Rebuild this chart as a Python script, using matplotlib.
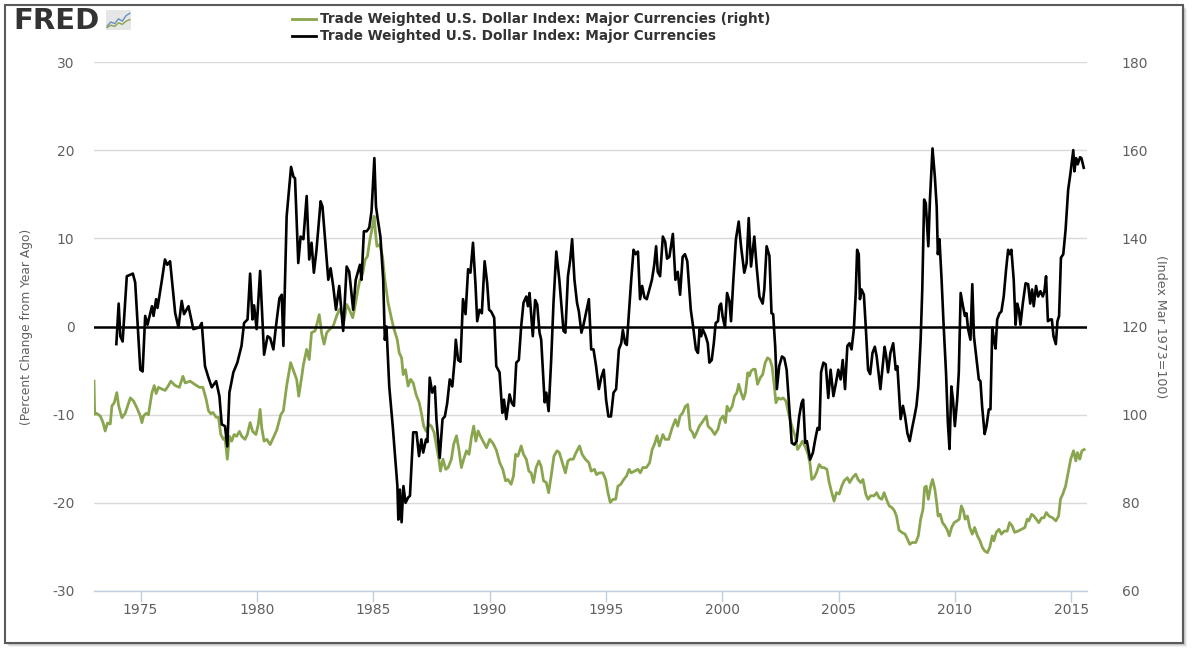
import matplotlib
matplotlib.use("Agg")
import matplotlib.pyplot as plt
from matplotlib.patches import Rectangle
from matplotlib.lines import Line2D

plt.rcParams["axes.unicode_minus"] = False

# Percent change from year ago (left axis)
pct_years = [
    1973.96, 1974.06, 1974.13, 1974.23, 1974.41, 1974.67, 1974.77, 1974.99, 1975.09, 1975.2,
    1975.3, 1975.49, 1975.56, 1975.67, 1975.73, 1975.92, 1976.05, 1976.15, 1976.27, 1976.49,
    1976.63, 1976.77, 1976.87, 1977.06, 1977.27, 1977.53, 1977.63, 1977.77, 1977.92, 1978.06,
    1978.25, 1978.39, 1978.49, 1978.63, 1978.73, 1978.82, 1978.99, 1979.16, 1979.34, 1979.45,
    1979.6, 1979.71, 1979.81, 1979.88, 1979.99, 1980.14, 1980.31, 1980.46, 1980.57, 1980.71,
    1980.82, 1980.97, 1981.07, 1981.14, 1981.28, 1981.47, 1981.57, 1981.64, 1981.78, 1981.88,
    1982.0, 1982.14, 1982.25, 1982.35, 1982.45, 1982.56, 1982.74, 1982.82, 1982.93, 1983.07,
    1983.17, 1983.28, 1983.4, 1983.54, 1983.71, 1983.86, 1983.97, 1984.14, 1984.25, 1984.43,
    1984.5, 1984.6, 1984.72, 1984.83, 1984.93, 1985.05, 1985.12, 1985.2, 1985.31, 1985.43,
    1985.5, 1985.57, 1985.69, 1985.84, 1985.94, 1986.04, 1986.08, 1986.15, 1986.22, 1986.3,
    1986.39, 1986.5, 1986.58, 1986.72, 1986.86, 1986.97, 1987.07, 1987.15, 1987.27, 1987.33,
    1987.43, 1987.54, 1987.65, 1987.72, 1987.86, 1987.98, 1988.08, 1988.18, 1988.29, 1988.4,
    1988.5, 1988.55, 1988.65, 1988.75, 1988.86, 1988.97, 1989.08, 1989.18, 1989.29, 1989.4,
    1989.47, 1989.57, 1989.67, 1989.79, 1989.9, 1989.98, 1990.07, 1990.2, 1990.29, 1990.43,
    1990.55, 1990.62, 1990.72, 1990.86, 1990.96, 1991.05, 1991.15, 1991.26, 1991.36, 1991.46,
    1991.58, 1991.65, 1991.72, 1991.86, 1991.96, 1992.05, 1992.15, 1992.22, 1992.37, 1992.44,
    1992.54, 1992.65, 1992.75, 1992.87, 1993.0, 1993.08, 1993.18, 1993.26, 1993.37, 1993.47,
    1993.55, 1993.65, 1993.76, 1993.84, 1993.95, 1994.04, 1994.16, 1994.27, 1994.37, 1994.47,
    1994.58, 1994.7, 1994.8, 1994.91, 1995.01, 1995.11, 1995.22, 1995.33, 1995.44, 1995.56,
    1995.66, 1995.73, 1995.83, 1995.9, 1995.99, 1996.09, 1996.19, 1996.28, 1996.38, 1996.47,
    1996.56, 1996.66, 1996.76, 1996.86, 1996.98, 1997.08, 1997.16, 1997.23, 1997.33, 1997.45,
    1997.55, 1997.63, 1997.73, 1997.88, 1997.99, 1998.09, 1998.19, 1998.3, 1998.4, 1998.5,
    1998.65, 1998.75, 1998.87, 1998.96, 1999.03, 1999.1, 1999.16, 1999.28, 1999.38, 1999.45,
    1999.55, 1999.64, 1999.72, 1999.82, 1999.88, 1999.95, 2000.02, 2000.12, 2000.21, 2000.31,
    2000.38, 2000.48, 2000.59, 2000.71, 2000.81, 2000.95, 2001.05, 2001.14, 2001.24, 2001.38,
    2001.48, 2001.6, 2001.74, 2001.81, 2001.91, 2002.03, 2002.12, 2002.19, 2002.28, 2002.35,
    2002.45, 2002.57, 2002.67, 2002.77, 2002.88, 2002.99, 2003.1, 2003.2, 2003.31, 2003.41,
    2003.48, 2003.57, 2003.64, 2003.78, 2003.9, 2004.0, 2004.1, 2004.18, 2004.25, 2004.35,
    2004.45, 2004.56, 2004.66, 2004.78, 2004.89, 2004.99, 2005.09, 2005.18, 2005.28, 2005.38,
    2005.47, 2005.56, 2005.66, 2005.74, 2005.8, 2005.87, 2005.92, 2005.99, 2006.09, 2006.17,
    2006.27, 2006.36, 2006.46, 2006.56, 2006.64, 2006.8, 2006.9, 2006.98, 2007.05, 2007.13,
    2007.23, 2007.35, 2007.46, 2007.53, 2007.67, 2007.77, 2007.86, 2007.96, 2008.06, 2008.15,
    2008.25, 2008.35, 2008.43, 2008.53, 2008.6, 2008.68, 2008.75, 2008.86, 2008.93, 2009.04,
    2009.14, 2009.22, 2009.27, 2009.34, 2009.43, 2009.52, 2009.62, 2009.7, 2009.77, 2009.85,
    2009.92, 2010.0, 2010.1, 2010.17, 2010.25, 2010.35, 2010.43, 2010.5, 2010.57, 2010.67,
    2010.75, 2010.82, 2010.92, 2011.03, 2011.1, 2011.17, 2011.28, 2011.36, 2011.46, 2011.53,
    2011.61, 2011.68, 2011.75, 2011.82, 2011.92, 2012.0, 2012.1, 2012.2, 2012.29, 2012.36,
    2012.43, 2012.53, 2012.61, 2012.68, 2012.75, 2012.82, 2012.92, 2013.04, 2013.15, 2013.24,
    2013.32, 2013.39, 2013.49, 2013.58, 2013.68, 2013.78, 2013.85, 2013.92, 2014.0, 2014.1,
    2014.17, 2014.24, 2014.34, 2014.41, 2014.48, 2014.56, 2014.66, 2014.76, 2014.87, 2014.97,
    2015.09, 2015.14, 2015.21, 2015.28, 2015.38, 2015.44, 2015.54,
]
pct_values = [
    -2.0, 2.6, -1.1, -1.7, 5.7, 6.0, 5.0, -4.9, -5.1, 1.2,
    0.2, 2.3, 1.2, 3.1, 2.1, 5.3, 7.6, 7.0, 7.4, 1.5,
    -0.1, 2.9, 1.4, 2.3, -0.3, -0.1, 0.4, -4.5, -5.8, -6.9,
    -6.2, -7.9, -11.1, -11.3, -13.6, -7.5, -5.2, -4.1, -2.2, 0.4,
    0.8, 6.0, 0.8, 2.4, -0.3, 6.3, -3.2, -1.1, -1.3, -2.6,
    0.0, 3.2, 3.6, -2.2, 12.5, 18.1, 17.0, 16.8, 7.2, 10.2,
    9.9, 14.8, 7.6, 9.5, 6.1, 8.6, 14.2, 13.6, 9.9, 5.3,
    6.6, 4.6, 1.9, 4.6, -0.5, 6.8, 6.2, 1.9, 5.3, 7.0,
    5.3, 10.8, 10.8, 11.2, 13.1, 19.1, 13.6, 12.1, 10.2, 5.3,
    -1.5, 0.0, -6.8, -11.3, -14.7, -18.1, -21.9, -18.5, -22.2, -18.1,
    -20.0, -19.4, -19.2, -12.0, -12.0, -14.7, -12.8, -14.3, -12.8, -13.1,
    -5.8, -7.5, -6.8, -10.6, -14.9, -10.5, -10.2, -8.7, -6.0, -6.8,
    -3.8, -1.5, -3.8, -4.0, 3.1, 1.4, 6.5, 6.1, 9.5, 4.6,
    0.6, 1.9, 1.5, 7.4, 4.9, 1.9, 1.7, 1.0, -4.5, -5.2,
    -9.8, -8.3, -10.5, -7.7, -8.7, -9.0, -4.1, -3.8, 0.0, 2.7,
    3.4, 2.3, 3.8, -1.1, 3.0, 2.5, -0.7, -1.5, -8.6, -7.5,
    -9.6, -3.8, 2.7, 8.5, 5.3, 2.7, -0.5, -0.7, 5.7, 7.6,
    9.9, 5.3, 2.7, 1.7, -0.7, 0.2, 1.7, 3.1, -2.6, -2.6,
    -4.5, -7.1, -5.8, -4.9, -8.3, -10.2, -10.2, -7.5, -7.1, -2.6,
    -1.9, -0.4, -1.9, -2.1, 1.5, 5.3, 8.7, 8.2, 8.5, 3.1,
    4.6, 3.3, 3.1, 4.1, 5.3, 7.0, 9.1, 6.2, 5.7, 10.2,
    9.6, 7.7, 7.9, 10.5, 5.3, 6.2, 3.6, 7.9, 8.2, 7.4,
    1.9, 0.0, -2.6, -3.0, -0.3, -1.1, -0.3, -1.0, -1.9, -4.1,
    -3.8, -1.9, 0.4, 0.6, 2.3, 2.6, 1.1, -0.1, 3.8, 2.9,
    0.6, 5.3, 9.9, 11.9, 9.1, 6.1, 7.2, 12.3, 6.8, 10.2,
    6.8, 3.4, 2.6, 4.2, 9.1, 8.0, 1.5, 1.4, -2.3, -7.1,
    -4.5, -3.4, -3.6, -4.9, -9.0, -13.2, -13.4, -13.0, -10.2, -8.7,
    -8.3, -13.2, -13.0, -15.1, -14.3, -12.8, -11.5, -11.7, -5.2, -4.1,
    -4.3, -8.1, -4.9, -7.9, -6.4, -4.9, -6.0, -3.8, -7.1, -2.2,
    -1.9, -2.6, -0.3, 3.8, 8.7, 8.2, 3.1, 4.2, 3.6, 0.0,
    -4.9, -5.4, -3.0, -2.3, -3.4, -7.1, -4.5, -2.3, -3.4, -5.2,
    -3.0, -1.9, -4.9, -4.5, -10.5, -9.0, -10.2, -12.1, -13.0, -11.7,
    -10.4, -9.0, -6.8, -1.5, 4.2, 14.4, 14.0, 9.1, 14.4, 20.2,
    17.0, 13.6, 8.2, 9.9, 5.3, 0.0, -5.2, -10.9, -13.9, -6.8,
    -8.3, -11.3, -8.3, -5.2, 3.8, 2.3, 1.2, 1.5, -0.3, -1.5,
    4.8, -1.1, -3.4, -6.0, -6.2, -9.0, -12.2, -11.3, -9.4, -9.4,
    -0.1, -1.5, -2.5, 0.8, 1.5, 1.7, 3.4, 6.4, 8.7, 8.2,
    8.7, 5.3, 0.2, 2.6, 1.9, 0.2, 2.6, 4.9, 4.8, 2.6,
    4.2, 2.3, 4.6, 3.4, 4.0, 3.4, 4.0, 5.7, 0.6, 0.8,
    0.8, -1.1, -2.0, 0.6, 1.2, 7.8, 8.2, 11.0, 15.5, 17.4,
    20.0, 17.6, 19.1, 18.4, 19.2, 19.1, 18.0,
]

# Index level, Mar 1973 = 100 (right axis)
idx_years = [
    1973.0, 1973.03, 1973.1, 1973.27, 1973.39, 1973.48, 1973.58, 1973.7, 1973.77, 1973.87,
    1973.98, 1974.06, 1974.2, 1974.34, 1974.56, 1974.7, 1974.84, 1974.99, 1975.06, 1975.13,
    1975.24, 1975.34, 1975.49, 1975.59, 1975.67, 1975.77, 1975.92, 1976.06, 1976.2, 1976.3,
    1976.49, 1976.67, 1976.82, 1976.92, 1977.13, 1977.35, 1977.53, 1977.68, 1977.82, 1977.92,
    1978.02, 1978.11, 1978.25, 1978.35, 1978.45, 1978.56, 1978.63, 1978.73, 1978.82, 1978.92,
    1979.02, 1979.13, 1979.25, 1979.35, 1979.49, 1979.59, 1979.71, 1979.82, 1979.96, 1980.06,
    1980.14, 1980.21, 1980.31, 1980.43, 1980.57, 1980.71, 1980.86, 1981.03, 1981.14, 1981.28,
    1981.45, 1981.61, 1981.71, 1981.8, 1981.93, 1982.0, 1982.14, 1982.25, 1982.35, 1982.5,
    1982.6, 1982.68, 1982.79, 1982.89, 1983.0, 1983.14, 1983.28, 1983.43, 1983.55, 1983.65,
    1983.75, 1983.86, 1983.97, 1984.12, 1984.22, 1984.33, 1984.43, 1984.55, 1984.65, 1984.75,
    1984.86, 1984.97, 1985.04, 1985.1, 1985.16, 1985.28, 1985.4, 1985.5, 1985.64, 1985.79,
    1985.9, 1986.03, 1986.12, 1986.22, 1986.29, 1986.39, 1986.5, 1986.61, 1986.72, 1986.84,
    1986.98, 1987.07, 1987.17, 1987.28, 1987.4, 1987.5, 1987.62, 1987.72, 1987.82, 1987.89,
    1988.0, 1988.12, 1988.22, 1988.36, 1988.46, 1988.58, 1988.68, 1988.79, 1988.89, 1989.01,
    1989.12, 1989.22, 1989.32, 1989.41, 1989.51, 1989.61, 1989.72, 1989.87, 1990.01, 1990.15,
    1990.29, 1990.44, 1990.57, 1990.69, 1990.79, 1990.93, 1991.03, 1991.12, 1991.22, 1991.36,
    1991.46, 1991.58, 1991.69, 1991.79, 1991.89, 1992.0, 1992.12, 1992.22, 1992.32, 1992.44,
    1992.54, 1992.65, 1992.77, 1992.9, 1993.0, 1993.15, 1993.26, 1993.37, 1993.47, 1993.6,
    1993.72, 1993.87, 1993.98, 1994.12, 1994.27, 1994.37, 1994.51, 1994.6, 1994.72, 1994.87,
    1994.99, 1995.09, 1995.19, 1995.31, 1995.42, 1995.52, 1995.64, 1995.77, 1995.89, 1996.0,
    1996.09, 1996.24, 1996.38, 1996.48, 1996.59, 1996.74, 1996.88, 1996.99, 1997.09, 1997.2,
    1997.3, 1997.45, 1997.55, 1997.7, 1997.85, 1997.99, 1998.09, 1998.19, 1998.3, 1998.42,
    1998.52, 1998.62, 1998.73, 1998.8, 1998.9, 1999.02, 1999.13, 1999.32, 1999.39, 1999.53,
    1999.68, 1999.82, 1999.92, 2000.04, 2000.14, 2000.21, 2000.31, 2000.43, 2000.53, 2000.63,
    2000.71, 2000.81, 2000.91, 2001.0, 2001.1, 2001.17, 2001.24, 2001.34, 2001.42, 2001.52,
    2001.64, 2001.74, 2001.85, 2001.95, 2002.05, 2002.14, 2002.24, 2002.31, 2002.41, 2002.52,
    2002.62, 2002.74, 2002.85, 2002.95, 2003.06, 2003.14, 2003.24, 2003.34, 2003.45, 2003.55,
    2003.67, 2003.77, 2003.85, 2003.95, 2004.05, 2004.17, 2004.28, 2004.38, 2004.5, 2004.6,
    2004.71, 2004.81, 2004.91, 2005.03, 2005.14, 2005.24, 2005.38, 2005.48, 2005.6, 2005.74,
    2005.84, 2005.95, 2006.05, 2006.17, 2006.27, 2006.38, 2006.53, 2006.64, 2006.74, 2006.86,
    2006.96, 2007.06, 2007.18, 2007.3, 2007.4, 2007.49, 2007.6, 2007.72, 2007.86, 2007.96,
    2008.06, 2008.17, 2008.32, 2008.43, 2008.53, 2008.63, 2008.7, 2008.77, 2008.86, 2008.96,
    2009.04, 2009.14, 2009.21, 2009.28, 2009.37, 2009.47, 2009.57, 2009.66, 2009.76, 2009.86,
    2009.97, 2010.09, 2010.19, 2010.28, 2010.37, 2010.44, 2010.54, 2010.64, 2010.75, 2010.85,
    2010.97, 2011.08, 2011.18, 2011.28, 2011.4, 2011.5, 2011.61, 2011.68, 2011.78, 2011.9,
    2012.0, 2012.13, 2012.25, 2012.35, 2012.46, 2012.57, 2012.72, 2012.86, 2013.01, 2013.11,
    2013.18, 2013.3, 2013.4, 2013.5, 2013.61, 2013.73, 2013.83, 2013.93, 2014.05, 2014.2,
    2014.34, 2014.46, 2014.54, 2014.64, 2014.76, 2014.87, 2014.98, 2015.1, 2015.2, 2015.27,
    2015.37, 2015.46, 2015.56,
]
idx_values = [
    107.6, 100.1, 100.3, 99.7, 98.2, 96.3, 98.1, 97.9, 102.0, 102.7,
    105.0, 102.0, 99.3, 100.3, 103.8, 103.1, 101.6, 99.7, 98.2, 99.7,
    100.3, 100.0, 105.0, 106.6, 104.8, 106.2, 105.8, 105.5, 106.6, 107.6,
    106.6, 106.2, 108.7, 107.2, 107.6, 106.8, 106.2, 106.2, 103.5, 100.9,
    100.2, 100.5, 99.4, 99.4, 95.5, 94.4, 94.8, 89.9, 95.1, 94.0,
    95.5, 95.1, 96.2, 95.1, 94.4, 95.5, 98.2, 96.2, 95.5, 97.8,
    101.2, 97.0, 94.0, 94.4, 93.2, 94.8, 96.6, 100.0, 100.9, 106.5,
    111.8, 109.5, 108.0, 104.2, 108.7, 111.3, 114.8, 112.5, 118.6, 119.0,
    120.9, 122.7, 118.3, 116.0, 118.6, 119.4, 120.1, 122.4, 123.9, 122.8,
    121.3, 125.0, 123.9, 122.0, 124.6, 128.0, 130.6, 132.1, 135.1, 135.9,
    139.7, 142.7, 145.0, 141.2, 138.2, 138.6, 135.9, 130.6, 125.4, 121.7,
    119.3, 117.1, 114.0, 112.9, 109.1, 110.2, 106.5, 108.0, 107.2, 104.6,
    102.7, 100.4, 97.4, 96.2, 97.8, 97.4, 95.9, 92.9, 89.9, 87.2,
    89.9, 87.6, 88.0, 89.9, 93.3, 95.2, 92.2, 88.0, 89.9, 91.8,
    91.0, 94.8, 97.4, 94.0, 96.3, 95.1, 94.0, 92.5, 94.4, 93.5,
    92.0, 89.1, 87.6, 85.0, 85.3, 84.2, 86.1, 91.0, 90.6, 92.9,
    91.0, 89.9, 87.2, 86.8, 84.6, 88.0, 89.5, 88.3, 85.0, 84.6,
    82.3, 86.1, 90.6, 91.8, 91.4, 88.7, 86.8, 89.5, 89.9, 89.9,
    91.4, 92.9, 91.0, 89.9, 89.1, 87.2, 87.6, 86.4, 86.8, 86.8,
    85.3, 82.3, 80.1, 80.8, 80.8, 83.8, 84.2, 85.3, 86.1, 87.6,
    86.8, 87.2, 87.6, 86.8, 88.0, 88.0, 89.1, 92.1, 93.3, 95.2,
    92.9, 95.5, 94.4, 94.4, 97.0, 98.9, 97.4, 99.7, 100.4, 101.9,
    102.3, 96.7, 95.9, 94.8, 95.9, 97.4, 98.2, 99.7, 97.4, 96.7,
    95.5, 96.7, 98.9, 99.7, 98.2, 101.9, 100.8, 101.9, 104.2, 105.0,
    106.9, 105.0, 103.5, 105.0, 109.5, 108.8, 109.9, 110.3, 110.3, 106.9,
    108.4, 109.1, 111.8, 112.9, 112.5, 111.0, 106.5, 102.7, 103.8, 103.5,
    103.8, 103.1, 100.4, 98.2, 96.3, 95.1, 92.1, 92.9, 94.0, 92.9,
    91.4, 89.1, 85.3, 85.7, 86.8, 88.7, 88.0, 88.0, 87.6, 84.6,
    82.3, 80.4, 82.3, 82.0, 83.8, 85.0, 85.7, 84.6, 85.7, 86.5,
    85.3, 84.6, 85.3, 82.0, 80.8, 81.6, 81.6, 82.3, 81.2, 80.8,
    82.3, 80.8, 79.3, 78.9, 78.2, 77.0, 73.8, 73.3, 72.9, 71.8,
    70.6, 71.0, 71.0, 72.5, 76.3, 78.5, 83.5, 83.8, 80.8, 83.8,
    85.3, 83.1, 80.4, 77.0, 77.4, 75.5, 74.8, 74.0, 72.5, 74.4,
    75.5, 75.9, 76.3, 79.3, 78.2, 76.3, 77.0, 74.4, 72.9, 74.4,
    72.5, 71.4, 69.9, 69.1, 68.7, 69.9, 72.5, 71.4, 73.3, 74.0,
    72.9, 73.6, 73.6, 75.5, 74.8, 73.3, 73.6, 74.0, 74.4, 76.3,
    75.9, 77.4, 77.0, 76.3, 75.5, 76.6, 76.6, 77.8, 77.0, 76.6,
    75.9, 77.0, 80.8, 82.0, 83.8, 86.8, 89.9, 91.8, 89.5, 91.4,
    89.9, 91.8, 92.1,
]

year_ticks = [1975, 1980, 1985, 1990, 1995, 2000, 2005, 2010, 2015]
left_ticks = [-30, -20, -10, 0, 10, 20, 30]
right_ticks = [60, 80, 100, 120, 140, 160, 180]

legend_labels = [
    "Trade Weighted U.S. Dollar Index: Major Currencies (right)",
    "Trade Weighted U.S. Dollar Index: Major Currencies",
]

# little FRED logo sparkline
icon_blue = [1, 2, 1.6, 2.8, 2.2, 3.6, 4.2]
icon_green = [0.6, 1.2, 0.9, 1.8, 1.4, 2.2, 2.6]

GREEN = "#89a54e"
GRID = "#d9d9d9"
AXIS_BLUE = "#c0d0e0"
TXT = "#606060"

W, H = 1192, 651
fig = plt.figure(figsize=(W / 100, H / 100), dpi=100)

# outer frame with a soft drop shadow (kept behind the axes)
for off, a in [(4, 0.12), (3, 0.18), (2, 0.25)]:
    fig.patches.append(Rectangle(((5 + off) / W, (8 - off) / H), 1178 / W, 638 / H,
                                 transform=fig.transFigure, facecolor="#888888",
                                 edgecolor="none", alpha=a, zorder=-3))
fig.patches.append(Rectangle((5 / W, 8 / H), 1178 / W, 638 / H, transform=fig.transFigure,
                             facecolor="white", edgecolor="#5a5a5a", lw=1.5, zorder=-2))

ax = fig.add_axes([94 / W, 60 / H, (1087 - 94) / W, (591 - 62) / H])
ax2 = ax.twinx()

ax2.plot(idx_years, idx_values, color=GREEN, lw=2.0, solid_joinstyle="round")
ax2.set_ylim(60, 180)
ax2.set_yticks(right_ticks)
ax2.yaxis.grid(True, color=GRID, lw=1)
ax2.set_axisbelow(True)

ax.plot(pct_years, pct_values, color="black", lw=1.9, solid_joinstyle="round")
ax.axhline(0, color="black", lw=1.8)
ax.set_ylim(-30, 30)
ax.set_yticks(left_ticks)
ax.set_xlim(1973.0, 2015.68)
ax.set_xticks(year_ticks)

# black series sits on top of the green one
ax.set_zorder(ax2.get_zorder() + 1)
ax.patch.set_visible(False)
ax2.patch.set_visible(False)

for a in (ax, ax2):
    for side in ("top", "left", "right"):
        a.spines[side].set_visible(False)
    a.spines["bottom"].set_color(AXIS_BLUE)
    a.spines["bottom"].set_linewidth(1)
ax2.spines["bottom"].set_visible(False)

ax.tick_params(axis="y", length=0, pad=14, labelsize=10, labelcolor=TXT)
ax2.tick_params(axis="y", length=0, pad=25, labelsize=10, labelcolor=TXT)
ax.tick_params(axis="x", direction="out", length=8, color=AXIS_BLUE, width=1,
               pad=1, labelsize=10, labelcolor=TXT)

fig.text(27 / W, 1 - 327 / H, "(Percent Change from Year Ago)", rotation=90,
         ha="center", va="center", fontsize=8.8, color=TXT)
fig.text(1160 / W, 1 - 327 / H, "(Index Mar 1973=100)", rotation=270,
         ha="center", va="center", fontsize=9.1, color=TXT)

# legend at the top
for i, (lab, col) in enumerate(zip(legend_labels, [GREEN, "black"])):
    y = 1 - (19 + 17 * i) / H
    fig.lines.append(Line2D([292 / W, 316 / W], [y, y], transform=fig.transFigure,
                            color=col, lw=2))
    fig.text(320 / W, y, lab, ha="left", va="center", fontsize=9.8,
             fontweight="bold", color="#333333")

# FRED logo
fig.text(13 / W, 1 - 21 / H, "FRED", ha="left", va="center", fontsize=21,
         fontweight="heavy", color="#333333")
icon = fig.add_axes([106 / W, 1 - 30 / H, 25 / W, 20 / H])
icon.set_facecolor("#e6e6e6")
icon.plot(icon_blue, color="#6b8fbf", lw=1)
icon.plot(icon_green, color=GREEN, lw=1)
icon.set_ylim(0, 5)
icon.set_xticks([])
icon.set_yticks([])
for s in icon.spines.values():
    s.set_visible(False)

fig.savefig("out.png", dpi=100)
